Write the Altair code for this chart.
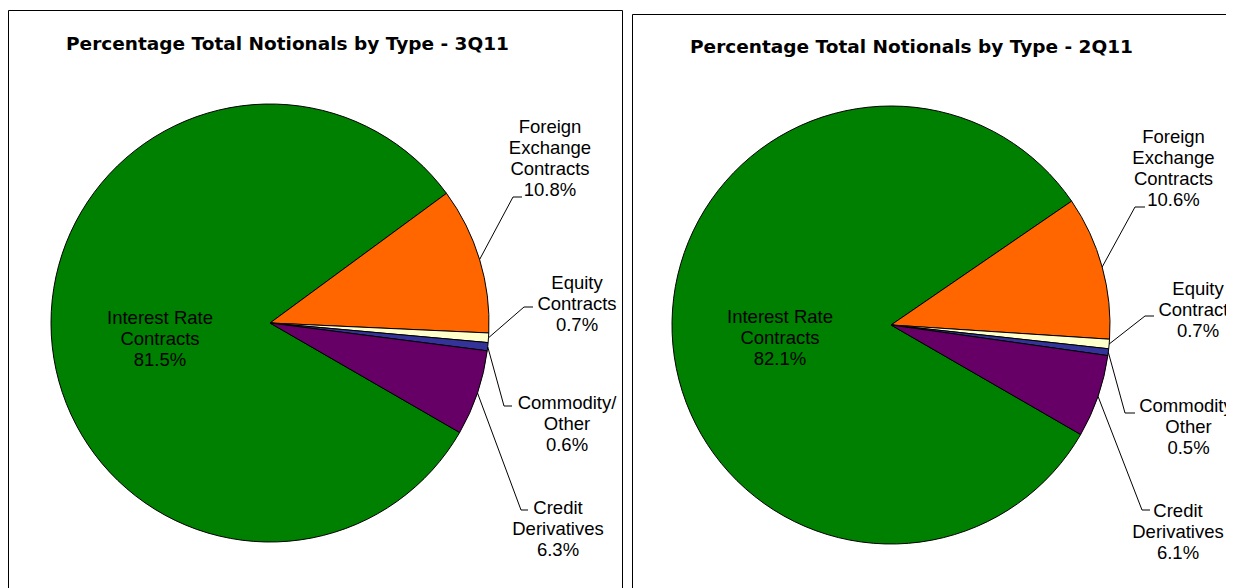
import math
import altair as alt
import pandas as pd

# ---------------- data ----------------
quarters = ["3Q11", "2Q11"]
titles = ["Percentage Total Notionals by Type - 3Q11",
          "Percentage Total Notionals by Type - 2Q11"]
categories = ["Interest Rate Contracts", "Foreign Exchange Contracts",
              "Equity Contracts", "Commodity/Other", "Credit Derivatives"]
label_lines = [["Interest Rate", "Contracts"],
               ["Foreign", "Exchange", "Contracts"],
               ["Equity", "Contracts"],
               ["Commodity/", "Other"],
               ["Credit", "Derivatives"]]
values_3q11 = [81.5, 10.8, 0.7, 0.6, 6.3]
values_2q11 = [82.1, 10.6, 0.7, 0.5, 6.1]
colors = ["#008000", "#FF6600", "#FFFFCC", "#333399", "#660066"]

# ---------------- layout (page pixel coordinates) ----------------
W, H = 1218, 580
ORIG = 8
START_DEG = 120.0
layout = {
    "3Q11": {
        "center": (270, 323), "radius": 219,
        "frame": (8.5, 10.5, 622.5, 640), "title": (287.5, 50),
        "labels": {  # text = centre of first line
            "Interest Rate Contracts": {"text": (160, 318)},
            "Foreign Exchange Contracts": {"text": (550, 127), "elbow": (513, 197), "end": (522, 197)},
            "Equity Contracts": {"text": (577, 283), "elbow": (524, 307), "end": (533, 307)},
            "Commodity/Other": {"text": (567, 403), "elbow": (504, 406), "end": (512, 406)},
            "Credit Derivatives": {"text": (558, 508), "elbow": (521, 510), "end": (528, 510)},
        },
    },
    "2Q11": {
        "center": (891, 325), "radius": 219,
        "frame": (632.5, 14.5, 1300, 640), "title": (911.5, 53),
        "labels": {
            "Interest Rate Contracts": {"text": (780, 317)},
            "Foreign Exchange Contracts": {"text": (1173.5, 137), "elbow": (1135, 207), "end": (1145, 207)},
            "Equity Contracts": {"text": (1198, 289), "elbow": (1145, 316), "end": (1154, 316)},
            "Commodity/Other": {"text": (1188.5, 406), "elbow": (1125, 413), "end": (1135, 413)},
            "Credit Derivatives": {"text": (1178, 511), "elbow": (1142, 510), "end": (1150, 510)},
        },
    },
}

# ---------------- build tables ----------------
rows_pie, rows_lead, rows_text, rows_title, rows_frame = [], [], [], [], []
for q, vals, ttl in zip(quarters, [values_3q11, values_2q11], titles):
    L = layout[q]
    cx, cy = L["center"]
    R = L["radius"]
    total = sum(vals)
    cum = 0.0
    for i, (cat, v) in enumerate(zip(categories, vals)):
        rows_pie.append(dict(quarter=q, category=cat, value=v, order=i))
        mid = math.radians(START_DEG + (cum + v / 2) / total * 360)
        cum += v
        lbl = L["labels"][cat]
        rows_text.append(dict(quarter=q, px=lbl["text"][0], py=lbl["text"][1],
                              label="\n".join(label_lines[i] + [f"{v:.1f}%"])))
        if "elbow" in lbl:
            pts = [(cx + R * math.sin(mid), cy - R * math.cos(mid)), lbl["elbow"], lbl["end"]]
            for s, (x, y) in enumerate(pts):
                rows_lead.append(dict(key=f"{q}-{cat}", seq=s, px=x, py=y))
    rows_title.append(dict(px=L["title"][0], py=L["title"][1], title=ttl))
    f = L["frame"]
    rows_frame.append(dict(x1=f[0], y1=f[1], x2=f[2], y2=f[3]))

pie_df = pd.DataFrame(rows_pie)
lead_df = pd.DataFrame(rows_lead)
text_df = pd.DataFrame(rows_text)
title_df = pd.DataFrame(rows_title)
frame_df = pd.DataFrame(rows_frame)

xs = alt.Scale(domain=[ORIG, ORIG + W], range=[0, W], zero=False, nice=False)
ys = alt.Scale(domain=[ORIG, ORIG + H], range=[0, H], zero=False, nice=False)
color_scale = alt.Scale(domain=categories, range=colors)
theta_scale = alt.Scale(range=[math.radians(START_DEG), math.radians(START_DEG + 360)])

layers = []
frames = alt.Chart(frame_df).mark_rect(fillOpacity=0, stroke="#000000", strokeWidth=1).encode(
    x=alt.X("x1:Q", scale=xs, axis=None), x2="x2:Q",
    y=alt.Y("y1:Q", scale=ys, axis=None), y2="y2:Q")
layers.append(frames)

for q in quarters:
    cx, cy = layout[q]["center"]
    R = layout[q]["radius"]
    arc = alt.Chart(pie_df).transform_filter(alt.datum.quarter == q).mark_arc(
        outerRadius=R, stroke="#000000", strokeWidth=1).encode(
        theta=alt.Theta("value:Q", stack="normalize", scale=theta_scale),
        color=alt.Color("category:N", scale=color_scale, legend=None),
        order=alt.Order("order:Q"),
        x=alt.value(cx - ORIG), y=alt.value(cy - ORIG))
    layers.append(arc)

leaders = alt.Chart(lead_df).mark_line(color="#000000", strokeWidth=1).encode(
    x=alt.X("px:Q", scale=xs, axis=None),
    y=alt.Y("py:Q", scale=ys, axis=None),
    detail="key:N", order="seq:Q")
layers.append(leaders)

labels = alt.Chart(text_df).mark_text(
    font="Liberation Sans", fontSize=18.5, lineHeight=21, align="center",
    baseline="middle", lineBreak="\n", color="#000000").encode(
    x=alt.X("px:Q", scale=xs, axis=None),
    y=alt.Y("py:Q", scale=ys, axis=None),
    text="label:N")
layers.append(labels)

title_layer = alt.Chart(title_df).mark_text(
    font="DejaVu Sans", fontWeight="bold", fontSize=18.5, align="center",
    baseline="alphabetic", color="#000000").encode(
    x=alt.X("px:Q", scale=xs, axis=None),
    y=alt.Y("py:Q", scale=ys, axis=None),
    text="title:N")
layers.append(title_layer)

chart = alt.layer(*layers).properties(
    width=W, height=H, padding=0,
    autosize=alt.AutoSizeParams(type="none")
).configure_view(stroke=None)

chart.save("out.html", embed_options={"renderer": "svg", "actions": False})
